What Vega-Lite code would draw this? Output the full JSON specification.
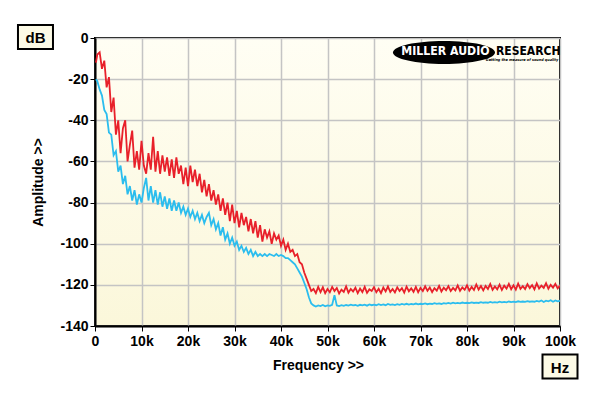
{
"$schema":"https://vega.github.io/schema/vega-lite/v6.json",
"width":465,"height":288,
"autosize":"none",
"padding":{"left":95,"top":38,"right":40,"bottom":70},
"background":"white",
"config":{
 "font":"Liberation Sans",
 "view":{"stroke":"black","strokeWidth":2,"fill":{"gradient":"linear","x1":0,"y1":0,"x2":0,"y2":1,"stops":[{"offset":0,"color":"#FFFEF4"},{"offset":1,"color":"#FBF7DA"}]}},
 "axis":{"labelFont":"Liberation Sans","labelFontSize":14,"labelFontWeight":"bold","labelColor":"black","tickColor":"black","tickSize":5,"tickWidth":1,"domainColor":"black","domainWidth":2,"gridColor":"#C4C4C4","gridWidth":1.5,"titleFont":"Liberation Sans","titleFontSize":14,"titleFontWeight":"bold","titleColor":"black","labelOverlap":false,"labelFlush":false}
},
"datasets":{"d":[
{"f":0.2,"r":-12,"c":-20},{"f":0.5,"r":-8,"c":-21},{"f":1,"r":-7,"c":-25},{"f":1.5,"r":-15,"c":-28},{"f":2,"r":-11,"c":-35},{"f":2.5,"r":-24,"c":-37},{"f":3,"r":-19,"c":-46},{"f":3.5,"r":-36,"c":-47},{"f":4,"r":-29,"c":-57},{"f":4.5,"r":-47,"c":-55},{"f":5,"r":-40,"c":-65},{"f":5.5,"r":-56,"c":-62},{"f":6,"r":-44,"c":-71},{"f":6.5,"r":-40,"c":-67},{"f":7,"r":-60,"c":-76},{"f":7.5,"r":-52,"c":-72},{"f":8,"r":-45,"c":-79},{"f":8.5,"r":-63,"c":-74},{"f":9,"r":-55,"c":-81},{"f":9.5,"r":-64,"c":-76},{"f":10,"r":-50,"c":-80},{"f":10.5,"r":-62,"c":-73},{"f":11,"r":-66,"c":-68},{"f":11.5,"r":-56,"c":-79},{"f":12,"r":-64,"c":-72},{"f":12.5,"r":-48,"c":-80},{"f":13,"r":-65,"c":-74},{"f":13.5,"r":-55,"c":-81},{"f":14,"r":-66,"c":-75},{"f":14.5,"r":-57,"c":-82},{"f":15,"r":-65,"c":-77},{"f":15.5,"r":-58,"c":-83},{"f":16,"r":-67,"c":-78},{"f":16.5,"r":-59,"c":-84},{"f":17,"r":-68,"c":-79},{"f":17.5,"r":-58,"c":-84},{"f":18,"r":-66,"c":-80},{"f":18.5,"r":-62,"c":-85},{"f":19,"r":-71,"c":-82},{"f":19.5,"r":-63,"c":-86},{"f":20,"r":-72,"c":-83},{"f":20.5,"r":-62,"c":-87},{"f":21,"r":-70,"c":-84},{"f":21.5,"r":-64,"c":-88},{"f":22,"r":-72,"c":-85},{"f":22.5,"r":-66,"c":-89},{"f":23,"r":-75,"c":-86},{"f":23.5,"r":-69,"c":-90},{"f":24,"r":-77,"c":-87},{"f":24.5,"r":-71,"c":-85},{"f":25,"r":-79,"c":-91},{"f":25.5,"r":-74,"c":-88},{"f":26,"r":-81,"c":-93},{"f":26.5,"r":-76,"c":-90},{"f":27,"r":-84,"c":-96},{"f":27.5,"r":-78,"c":-92},{"f":28,"r":-86,"c":-98},{"f":28.5,"r":-80,"c":-95},{"f":29,"r":-89,"c":-100},{"f":29.5,"r":-81,"c":-97},{"f":30,"r":-90,"c":-101},{"f":30.5,"r":-84,"c":-99},{"f":31,"r":-92,"c":-103},{"f":31.5,"r":-85,"c":-101},{"f":32,"r":-91,"c":-104},{"f":32.5,"r":-87,"c":-102},{"f":33,"r":-94,"c":-105},{"f":33.5,"r":-88,"c":-103},{"f":34,"r":-95,"c":-106},{"f":34.5,"r":-89,"c":-104},{"f":35,"r":-97,"c":-106},{"f":35.5,"r":-91,"c":-105},{"f":36,"r":-99,"c":-106},{"f":36.5,"r":-93,"c":-105},{"f":37,"r":-97,"c":-106},{"f":37.5,"r":-94,"c":-105},{"f":38,"r":-100,"c":-105.5},{"f":38.5,"r":-95,"c":-106},{"f":39,"r":-98,"c":-105},{"f":39.5,"r":-96,"c":-106},{"f":40,"r":-101,"c":-105.5},{"f":40.5,"r":-98,"c":-106},{"f":41,"r":-103,"c":-107},{"f":41.5,"r":-100,"c":-107},{"f":42,"r":-104,"c":-108},{"f":42.5,"r":-103,"c":-109},{"f":43,"r":-106,"c":-110},{"f":43.5,"r":-105,"c":-112},{"f":44,"r":-109,"c":-114},{"f":44.5,"r":-110,"c":-116},{"f":45,"r":-114,"c":-119},{"f":45.5,"r":-117,"c":-122},{"f":46,"r":-120,"c":-126},{"f":46.5,"r":-123,"c":-129},{"f":47,"r":-122,"c":-130},{"f":47.5,"r":-124,"c":-130.5},{"f":48,"r":-121,"c":-130},
{"f":48.5,"r":-123.5,"c":-130.3},{"f":49,"r":-121.2,"c":-129.8},{"f":49.5,"r":-124,"c":-130.4},{"f":50,"r":-122,"c":-130},{"f":50.5,"r":-123.6,"c":-130.2},{"f":51,"r":-121,"c":-129.7},{"f":51.5,"r":-123,"c":-125},{"f":52,"r":-121.5,"c":-130},{"f":52.5,"r":-124.2,"c":-130.3},{"f":53,"r":-122.3,"c":-129.9},{"f":53.5,"r":-123.4,"c":-130.2},{"f":54,"r":-120.8,"c":-129.8},{"f":54.5,"r":-123.8,"c":-130.1},{"f":55,"r":-122,"c":-129.6},{"f":55.5,"r":-123.2,"c":-130},{"f":56,"r":-121.4,"c":-129.8},{"f":56.5,"r":-124,"c":-130.2},{"f":57,"r":-121.8,"c":-129.7},{"f":57.5,"r":-123.5,"c":-130},{"f":58,"r":-121,"c":-129.6},{"f":58.5,"r":-123.9,"c":-130.1},{"f":59,"r":-122.2,"c":-129.5},{"f":59.5,"r":-123,"c":-129.9},{"f":60,"r":-121.1,"c":-129.6},{"f":60.5,"r":-123.6,"c":-129.9},{"f":61,"r":-121.9,"c":-129.4},{"f":61.5,"r":-124,"c":-129.8},{"f":62,"r":-121.3,"c":-129.5},{"f":62.5,"r":-123.2,"c":-129.9},{"f":63,"r":-120.8,"c":-129.3},{"f":63.5,"r":-123.5,"c":-129.7},{"f":64,"r":-122,"c":-129.5},{"f":64.5,"r":-123.7,"c":-129.8},{"f":65,"r":-121.2,"c":-129.4},{"f":65.5,"r":-123,"c":-129.7},{"f":66,"r":-121.6,"c":-129.3},{"f":66.5,"r":-123.8,"c":-129.6},{"f":67,"r":-120.9,"c":-129.2},{"f":67.5,"r":-123.1,"c":-129.6},{"f":68,"r":-121.7,"c":-129.3},{"f":68.5,"r":-123.4,"c":-129.5},{"f":69,"r":-121,"c":-129.1},{"f":69.5,"r":-123.6,"c":-129.5},{"f":70,"r":-121.5,"c":-129.2},{"f":70.5,"r":-123,"c":-129.4},{"f":71,"r":-120.7,"c":-129},{"f":71.5,"r":-122.9,"c":-129.4},{"f":72,"r":-121.3,"c":-129.1},{"f":72.5,"r":-123.5,"c":-129.3},{"f":73,"r":-121.6,"c":-128.9},{"f":73.5,"r":-122.8,"c":-129.2},{"f":74,"r":-120.5,"c":-129},{"f":74.5,"r":-123.2,"c":-129.3},{"f":75,"r":-121.4,"c":-128.9},{"f":75.5,"r":-122.6,"c":-129.1},{"f":76,"r":-120.6,"c":-128.8},{"f":76.5,"r":-123,"c":-129.1},{"f":77,"r":-121.5,"c":-128.7},{"f":77.5,"r":-122.7,"c":-129},{"f":78,"r":-120.3,"c":-128.8},{"f":78.5,"r":-122.9,"c":-129},{"f":79,"r":-121.2,"c":-128.6},{"f":79.5,"r":-122.4,"c":-128.9},{"f":80,"r":-120.2,"c":-128.7},{"f":80.5,"r":-122.8,"c":-128.9},{"f":81,"r":-121,"c":-128.5},{"f":81.5,"r":-122.5,"c":-128.8},{"f":82,"r":-119.8,"c":-128.6},{"f":82.5,"r":-122.3,"c":-128.8},{"f":83,"r":-120.6,"c":-128.4},{"f":83.5,"r":-122.7,"c":-128.7},{"f":84,"r":-120.5,"c":-128.5},{"f":84.5,"r":-122,"c":-128.7},{"f":85,"r":-119.6,"c":-128.3},{"f":85.5,"r":-122.4,"c":-128.6},{"f":86,"r":-120.8,"c":-128.4},{"f":86.5,"r":-122.2,"c":-128.6},{"f":87,"r":-119.9,"c":-128.2},{"f":87.5,"r":-122.5,"c":-128.5},{"f":88,"r":-120.4,"c":-128.3},{"f":88.5,"r":-121.8,"c":-128.5},{"f":89,"r":-119.5,"c":-128.1},{"f":89.5,"r":-122.1,"c":-128.4},{"f":90,"r":-120.2,"c":-128.2},{"f":90.5,"r":-122.3,"c":-128.4},{"f":91,"r":-119.4,"c":-128},{"f":91.5,"r":-121.9,"c":-128.3},{"f":92,"r":-120.6,"c":-128.1},{"f":92.5,"r":-122,"c":-128.3},{"f":93,"r":-119.7,"c":-127.9},{"f":93.5,"r":-121.6,"c":-128.2},{"f":94,"r":-120.1,"c":-128},{"f":94.5,"r":-122.2,"c":-128.2},{"f":95,"r":-119.3,"c":-127.8},{"f":95.5,"r":-121.8,"c":-128.1},{"f":96,"r":-120.4,"c":-127.6},{"f":96.5,"r":-121.5,"c":-128.3},{"f":97,"r":-119.2,"c":-127.7},{"f":97.5,"r":-121.9,"c":-128},{"f":98,"r":-120,"c":-127.5},{"f":98.5,"r":-121.4,"c":-128.2},{"f":99,"r":-119.5,"c":-127.6},{"f":99.5,"r":-121.7,"c":-128},{"f":100,"r":-120.3,"c":-127.7}
],
"boxes":[{"lbl":"dB","f":-12.8,"v":0.5},{"lbl":"Hz","f":100,"v":-159.7}],
"logo":[{"f":75.05,"v":-7.05}]
},
"layer":[
 {"data":{"name":"d"},"mark":{"type":"line","color":"#2BBDEE","strokeWidth":1.8,"clip":true},
  "encoding":{
   "x":{"field":"f","type":"quantitative","scale":{"domain":[0,100],"nice":false,"zero":false},
        "axis":{"values":[0,10,20,30,40,50,60,70,80,90,100],"labelExpr":"datum.value == 0 ? '0' : datum.value + 'k'","title":"Frequency >>","titlePadding":10,"labelPadding":3,"titleX":223}},
   "y":{"field":"c","type":"quantitative","scale":{"domain":[-140,0],"nice":false,"zero":false},
        "axis":{"values":[-140,-120,-100,-80,-60,-40,-20,0],"labelExpr":"'' + datum.value","title":"Amplitude >>","titlePadding":14,"labelPadding":2}}}},
 {"data":{"name":"d"},"mark":{"type":"line","color":"#E8202A","strokeWidth":1.8,"clip":true},
  "encoding":{"x":{"field":"f","type":"quantitative"},"y":{"field":"r","type":"quantitative"}}},
 {"data":{"name":"logo"},"mark":{"type":"point","shape":"M-1,0A1,0.225 0 1,0 1,0A1,0.225 0 1,0 -1,0Z","size":10404,"filled":true,"color":"black","opacity":1},
  "encoding":{"x":{"field":"f","type":"quantitative"},"y":{"field":"v","type":"quantitative"}}},
 {"data":{"name":"logo"},"mark":{"type":"text","text":"MILLER AUDIO","font":"DejaVu Sans Condensed","fontWeight":"bold","fontSize":12.2,"color":"white","align":"center","baseline":"middle","dx":1.5,"dy":-1.5},
  "encoding":{"x":{"field":"f","type":"quantitative"},"y":{"field":"v","type":"quantitative"}}},
 {"data":{"name":"logo"},"mark":{"type":"text","text":"RESEARCH","font":"DejaVu Sans Condensed","fontWeight":"bold","fontSize":12,"color":"black","align":"left","baseline":"middle","dx":52,"dy":-2},
  "encoding":{"x":{"field":"f","type":"quantitative"},"y":{"field":"v","type":"quantitative"}}},
 {"data":{"name":"logo"},"mark":{"type":"text","text":"Getting the measure of sound quality","font":"DejaVu Sans Condensed","fontWeight":"bold","fontStyle":"italic","fontSize":3.8,"color":"black","align":"center","baseline":"middle","dx":78,"dy":7.5},
  "encoding":{"x":{"field":"f","type":"quantitative"},"y":{"field":"v","type":"quantitative"}}},
 {"data":{"name":"boxes"},"mark":{"type":"point","shape":"M-1,-0.686H1V0.686H-1Z","size":1225,"filled":true,"fill":"#FCFAE6","stroke":"black","strokeWidth":2,"opacity":1},
  "encoding":{"x":{"field":"f","type":"quantitative"},"y":{"field":"v","type":"quantitative"}}},
 {"data":{"name":"boxes"},"mark":{"type":"text","font":"Liberation Sans","fontWeight":"bold","fontSize":15,"color":"black","align":"center","baseline":"middle","dy":1},
  "encoding":{"x":{"field":"f","type":"quantitative"},"y":{"field":"v","type":"quantitative"},"text":{"field":"lbl"}}}
]
}
